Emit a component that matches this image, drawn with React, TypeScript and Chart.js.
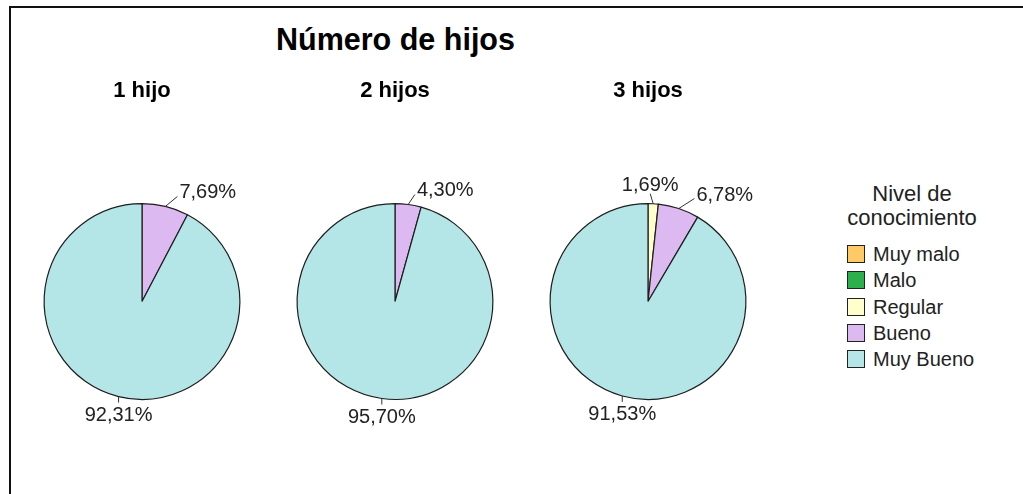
import React, { useEffect, useRef } from 'react';
import { Chart, registerables } from 'chart.js';

Chart.register(...registerables);

// ---- data ----
const categories = ['Muy malo', 'Malo', 'Regular', 'Bueno', 'Muy Bueno'];
const groupTitles = ['1 hijo', '2 hijos', '3 hijos'];
const valuesOneChild = [0, 0, 0, 7.69, 92.31];
const valuesTwoChildren = [0, 0, 0, 4.3, 95.7];
const valuesThreeChildren = [0, 0, 1.69, 6.78, 91.53];
const chartTitle = 'Número de hijos';
const legendTitleLines = ['Nivel de', 'conocimiento'];

// ---- styles ----
const sliceColors = ['#FFC966', '#2DB04B', '#FFFFCC', '#DDB9F1', '#B4E6E7'];
const FONT = 'Arial, "Liberation Sans", sans-serif';

const seriesList = [valuesOneChild, valuesTwoChildren, valuesThreeChildren];

const fmt = (v: number) => v.toFixed(2).replace('.', ',') + '%';

const outLabelsPlugin = {
  id: 'outLabels',
  afterDatasetsDraw(chart: any) {
    const ctx = chart.ctx as CanvasRenderingContext2D;
    const meta = chart.getDatasetMeta(0);
    const data = chart.data.datasets[0].data as number[];
    ctx.save();
    ctx.font = `20px ${FONT}`;
    ctx.fillStyle = '#222';
    ctx.strokeStyle = '#333';
    ctx.lineWidth = 1;
    meta.data.forEach((arc: any, i: number) => {
      const v = data[i];
      if (!v) return;
      const { x, y, startAngle, endAngle, outerRadius } = arc.getProps(
        ['x', 'y', 'startAngle', 'endAngle', 'outerRadius'],
        true
      );
      const mid = (startAngle + endAngle) / 2;
      const c = Math.cos(mid);
      const s = Math.sin(mid);
      const ex = x + outerRadius * c;
      const ey = y + outerRadius * s;
      const text = fmt(v);
      let ax: number, ay: number;
      ctx.textBaseline = 'alphabetic';
      if (s < 0) {
        const side = Math.abs(c) >= 0.1;
        ax = ex + (side ? c * 50 : -3);
        ay = ey - 10;
        ctx.beginPath();
        ctx.moveTo(ex, ey);
        ctx.lineTo(ax, ay);
        ctx.stroke();
        if (!side) {
          ctx.textAlign = 'center';
          ctx.fillText(text, ax, ay - 3);
        } else if (c > 0) {
          ctx.textAlign = 'left';
          ctx.fillText(text, ax + 2, ay + 2);
        } else {
          ctx.textAlign = 'right';
          ctx.fillText(text, ax - 2, ay + 2);
        }
      } else {
        ax = ex;
        ay = ey + 6;
        ctx.beginPath();
        ctx.moveTo(ex, ey);
        ctx.lineTo(ax, ay);
        ctx.stroke();
        ctx.textAlign = 'center';
        ctx.fillText(text, ax, ay + 18);
      }
    });
    ctx.restore();
  },
};

const CANVAS_W = 252;
const CANVAS_H = 380;
const CANVAS_TOP = 60;
const PIE_CENTERS_X = [142, 395, 648];

export default function App() {
  const refs = [useRef<HTMLCanvasElement>(null), useRef<HTMLCanvasElement>(null), useRef<HTMLCanvasElement>(null)];

  useEffect(() => {
    const charts = refs.map((r, idx) => {
      const canvas = r.current!;
      return new Chart(canvas, {
        type: 'pie',
        data: {
          labels: categories,
          datasets: [
            {
              data: seriesList[idx],
              backgroundColor: sliceColors,
              borderColor: '#1e1e1e',
              borderWidth: (ctx: any) => (ctx.raw > 0 ? 1.2 : 0),
            },
          ],
        },
        options: {
          responsive: false,
          animation: false,
          events: [],
          layout: { padding: { left: 27.5, right: 27.5, top: 0, bottom: 40 } },
          plugins: {
            legend: { display: false },
            tooltip: { enabled: false },
            title: {
              display: true,
              text: groupTitles[idx],
              color: '#000',
              font: { size: 22, weight: 'bold', family: FONT },
              padding: { top: 17.8, bottom: 98.8 },
            },
          },
        } as any,
        plugins: [outLabelsPlugin],
      });
    });
    return () => charts.forEach((c) => c.destroy());
  }, []);

  return (
    <div style={{ position: 'fixed', left: 0, top: 0, width: 1023, height: 494, background: '#fff', overflow: 'hidden', fontFamily: FONT }}>
      <div
        style={{
          position: 'absolute',
          left: 9,
          top: 6,
          width: 1100,
          height: 600,
          borderLeft: '2px solid #111',
          borderTop: '2px solid #111',
        }}
      />
      <div
        style={{
          position: 'absolute',
          left: 0,
          top: 23.6,
          width: 791,
          textAlign: 'center',
          fontSize: 30.5,
          fontWeight: 'bold',
          lineHeight: '30px',
          color: '#000',
          whiteSpace: 'nowrap',
        }}
      >
        {chartTitle}
      </div>
      {refs.map((r, i) => (
        <canvas
          key={i}
          ref={r}
          width={CANVAS_W}
          height={CANVAS_H}
          style={{
            position: 'absolute',
            left: PIE_CENTERS_X[i] - CANVAS_W / 2,
            top: CANVAS_TOP,
            width: CANVAS_W,
            height: CANVAS_H,
          }}
        />
      ))}
      <div
        style={{
          position: 'absolute',
          left: 812,
          top: 182.4,
          width: 200,
          textAlign: 'center',
          fontSize: 22,
          lineHeight: '23.5px',
          color: '#222',
        }}
      >
        {legendTitleLines.map((t, i) => (
          <div key={i}>{t}</div>
        ))}
      </div>
      {categories.map((cat, i) => (
        <React.Fragment key={cat}>
          <div
            style={{
              position: 'absolute',
              left: 847,
              top: 245 + i * 26.3,
              width: 18,
              height: 18,
              boxSizing: 'border-box',
              border: '1px solid #222',
              background: sliceColors[i],
            }}
          />
          <div
            style={{
              position: 'absolute',
              left: 873,
              top: 245 + i * 26.3,
              fontSize: 20,
              lineHeight: '19px',
              color: '#222',
              whiteSpace: 'nowrap',
            }}
          >
            {cat}
          </div>
        </React.Fragment>
      ))}
    </div>
  );
}
